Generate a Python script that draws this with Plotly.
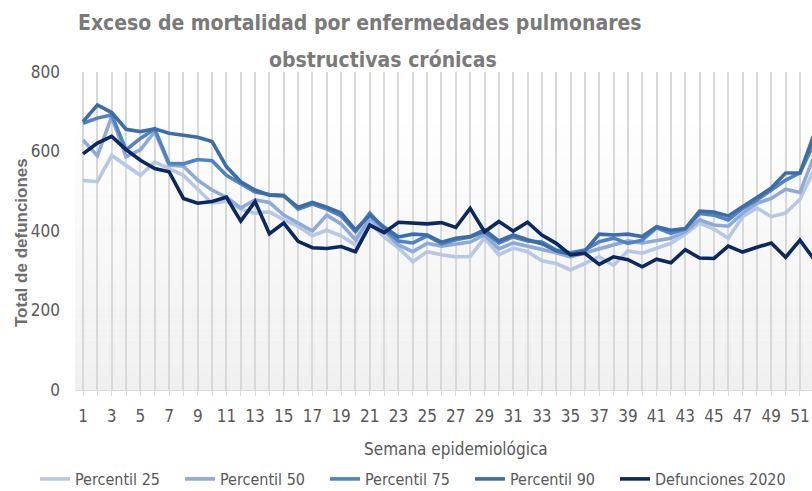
import plotly.graph_objects as go

# Semanas epidemiológicas 1-52
semanas = list(range(1, 53))
etiquetas_semana = [str(s) if s % 2 == 1 else "" for s in semanas]

percentil_25 = [527, 524, 590, 565, 540, 574, 558, 540, 505, 470, 475, 455, 445, 448, 428, 412, 388, 402,
                388, 365, 420, 385, 357, 323, 348, 340, 335, 336, 382, 340, 357, 348, 325, 318, 302, 318,
                335, 314, 350, 344, 357, 369, 392, 420, 405, 382, 436, 458, 436, 445, 480, 555]
percentil_50 = [629, 589, 688, 587, 604, 650, 566, 563, 528, 503, 485, 458, 478, 472, 440, 420, 400, 440,
                418, 378, 432, 400, 365, 348, 369, 362, 368, 372, 390, 355, 370, 362, 352, 345, 335, 345,
                356, 365, 375, 370, 375, 382, 398, 428, 415, 412, 445, 470, 482, 505, 497, 590]
percentil_75 = [671, 684, 692, 604, 633, 657, 570, 569, 580, 577, 540, 518, 498, 492, 490, 455, 468, 455,
                438, 398, 445, 405, 375, 370, 388, 368, 378, 385, 398, 370, 385, 375, 372, 352, 345, 352,
                373, 382, 369, 377, 408, 394, 405, 444, 440, 428, 457, 478, 503, 528, 546, 622]
percentil_90 = [675, 717, 698, 656, 650, 657, 646, 641, 636, 625, 562, 524, 503, 490, 488, 460, 472, 460,
                445, 403, 440, 410, 385, 392, 390, 372, 382, 386, 403, 375, 390, 378, 368, 350, 342, 350,
                392, 390, 392, 386, 411, 402, 406, 450, 448, 438, 462, 484, 508, 546, 546, 645]
defunciones_2020 = [594, 621, 638, 605, 578, 557, 549, 482, 470, 474, 485, 425, 474, 393, 420, 374, 358, 356,
                    361, 348, 415, 396, 422, 419, 418, 421, 409, 457, 398, 424, 400, 422, 390, 369, 340, 344,
                    316, 335, 328, 310, 329, 320, 353, 332, 331, 362, 347, 359, 370, 334, 377, 328]

# (nombre, valores, color, leyenda)
series = [
    ("Percentil 25", percentil_25, "#b7c8e6", "legend"),
    ("Percentil 50", percentil_50, "#8eaad8", "legend"),
    ("Percentil 75", percentil_75, "#4f84c4", "legend"),
    ("Percentil 90", percentil_90, "#3d6ca6", "legend"),
    ("Defunciones 2020", defunciones_2020, "#0c2862", "legend2"),
]

NARROW = "Liberation Sans Narrow, DejaVu Sans Condensed, Arial Narrow, sans-serif"
GRIS = "#595959"
TITULO = "#7a7a7a"

# Geometría del área de trazado (px)
W, H = 812, 491
L, R, T, B = 75, 0, 72, 101
PW, PH = W - L - R, H - T - B


def px_x(px):
    return (px - L) / PW


def px_y(py):
    return (H - B - py) / PH


fig = go.Figure()
for nombre, valores, color, leyenda in series:
    fig.add_trace(go.Scatter(
        x=semanas, y=valores, name=nombre, mode="lines",
        line=dict(color=color, width=3.6), legend=leyenda,
    ))

# Fondo del área de trazado en degradado (blanco arriba, gris claro abajo)
n_bandas = 40
tope = 710
for i in range(n_bandas):
    y0 = tope * i / n_bandas
    y1 = tope * (i + 1) / n_bandas
    t = i / (n_bandas - 1)
    g = int(round(240 + (255 - 240) * t))
    fig.add_shape(type="rect", xref="paper", yref="y", x0=0, x1=1, y0=y0, y1=y1,
                  fillcolor=f"rgb({g},{g},{g})", line=dict(width=0), layer="below")

ESTILO_LEYENDA = dict(
    orientation="h", xanchor="left", y=px_y(479), yanchor="middle",
    font=dict(family=NARROW, size=16, color=GRIS),
    itemwidth=30, bgcolor="rgba(0,0,0,0)",
)

fig.update_layout(
    width=W, height=H,
    margin=dict(l=L, r=R, t=T, b=B, autoexpand=False),
    paper_bgcolor="white",
    plot_bgcolor="white",
    showlegend=True,
    legend=dict(x=px_x(35), entrywidth=100, entrywidthmode="pixels", **ESTILO_LEYENDA),
    legend2=dict(x=px_x(35 + 4 * 145), **ESTILO_LEYENDA),
    xaxis=dict(
        range=[0.44, 51.84],
        tickmode="array", tickvals=semanas, ticktext=etiquetas_semana,
        showgrid=True, gridcolor="#d9d9d9", gridwidth=2,
        ticks="outside", ticklen=5, tickcolor="#d9d9d9",
        showline=True, linecolor="#d9d9d9", linewidth=1,
        ticklabelstandoff=6,
        tickfont=dict(family=NARROW, size=17, color=GRIS),
        zeroline=False,
    ),
    yaxis=dict(
        range=[0, 800], tickvals=[0, 200, 400, 600, 800],
        showgrid=False, zeroline=False, showline=False,
        ticks="", ticklabelstandoff=14,
        tickfont=dict(family=NARROW, size=17, color=GRIS),
    ),
    annotations=[
        dict(text="<b>Exceso de mortalidad por enfermedades pulmonares</b>", xref="paper", yref="paper",
             x=px_x(360), y=px_y(23), xanchor="center", yanchor="middle", showarrow=False,
             font=dict(family=NARROW, size=21, color=TITULO)),
        dict(text="<b>obstructivas crónicas</b>", xref="paper", yref="paper",
             x=px_x(383), y=px_y(60), xanchor="center", yanchor="middle", showarrow=False,
             font=dict(family=NARROW, size=21, color=TITULO)),
        dict(text="Semana epidemiológica", xref="paper", yref="paper",
             x=px_x(456), y=px_y(449), xanchor="center", yanchor="middle",
             showarrow=False, font=dict(family=NARROW, size=17, color=GRIS)),
        dict(text="<b>Total de defunciones</b>", xref="paper", yref="paper",
             x=px_x(21), y=px_y(243), xanchor="center", yanchor="middle",
             textangle=-90, showarrow=False,
             font=dict(family="Liberation Sans, Arial, sans-serif", size=17, color="#6e6e6e")),
    ],
)

fig.write_html("out.html")
